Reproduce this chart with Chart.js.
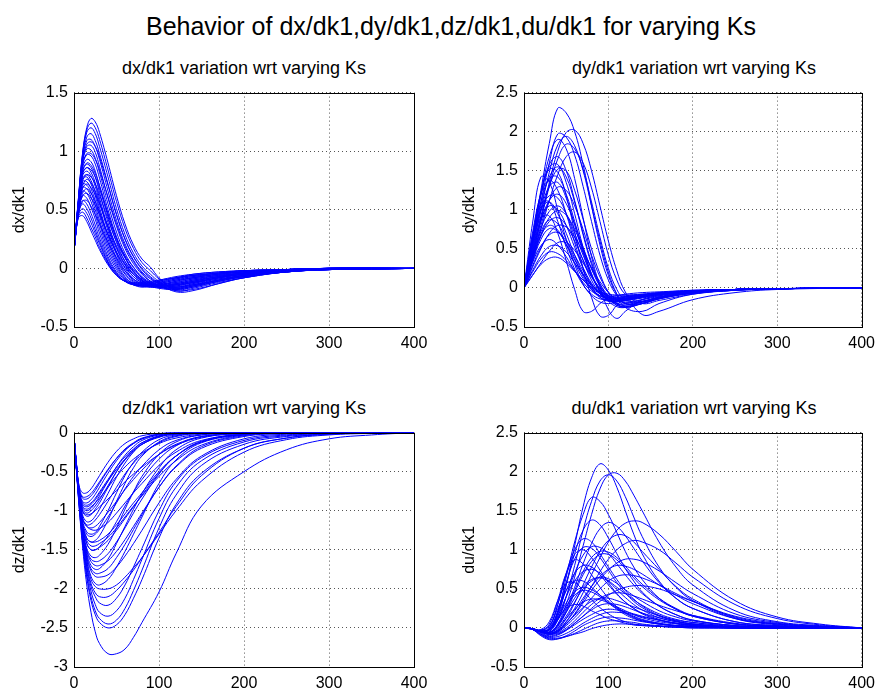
<!DOCTYPE html>
<html>
<head>
<meta charset="utf-8">
<script src="https://cdn.jsdelivr.net/npm/chart.js@4.4.1/dist/chart.umd.min.js"></script>
<style>
  body { margin: 0; background: #fff; }
  #fig { position: relative; width: 882px; height: 696px; overflow: hidden; font-family: "Liberation Sans", Arial, sans-serif; color: #000; }
  .box { position: absolute; }
  .ttl { position: absolute; text-align: center; white-space: nowrap; line-height: 1; }
</style>
</head>
<body>
<div id="fig">
  <div class="ttl" style="left:0;width:902px;top:14px;font-size:25px;">Behavior of dx/dk1,dy/dk1,dz/dk1,du/dk1 for varying Ks</div>
  <div class="ttl" style="left:74px;width:340px;top:59px;font-size:18px;">dx/dk1 variation wrt varying Ks</div>
  <div class="ttl" style="left:524px;width:340px;top:59px;font-size:18px;">dy/dk1 variation wrt varying Ks</div>
  <div class="ttl" style="left:74px;width:340px;top:399px;font-size:18px;">dz/dk1 variation wrt varying Ks</div>
  <div class="ttl" style="left:524px;width:340px;top:399px;font-size:18px;">du/dk1 variation wrt varying Ks</div>
  <div class="box" style="left:0;top:77px;"><canvas id="dxChart" width="440" height="283"></canvas></div>
  <div class="box" style="left:440px;top:77px;"><canvas id="dyChart" width="442" height="283"></canvas></div>
  <div class="box" style="left:0;top:417px;"><canvas id="dzChart" width="440" height="279"></canvas></div>
  <div class="box" style="left:440px;top:417px;"><canvas id="duChart" width="442" height="279"></canvas></div>
</div>
<script>
// sample times (x) per panel
const dxSteps = [0, 5, 10, 15, 20, 25, 30, 40, 50, 60, 70, 80, 90, 100, 120, 140, 170, 200, 250, 300, 400];
const dySteps = [0, 5, 10, 20, 30, 40, 50, 60, 70, 80, 90, 100, 110, 120, 140, 160, 200, 250, 300, 400];
const dzSteps = [0, 3, 6, 10, 15, 20, 25, 30, 40, 50, 60, 70, 80, 100, 120, 150, 200, 250, 300, 350, 400];
const duSteps = [0, 10, 20, 30, 40, 50, 60, 70, 80, 90, 100, 110, 120, 130, 140, 160, 180, 200, 250, 300, 350, 400];

// dx/dk1 curves, one row per Ks value
const dxSeries = [
  [0.15, 0.58, 0.98, 1.20, 1.28, 1.25, 1.16, 0.90, 0.62, 0.38, 0.20, 0.08, 0.01, -0.08, -0.19, -0.17, -0.12, -0.08, -0.03, -0.01, 0],
  [0.15, 0.58, 0.97, 1.18, 1.24, 1.20, 1.10, 0.84, 0.57, 0.34, 0.17, 0.05, -0.02, -0.09, -0.18, -0.16, -0.11, -0.07, -0.03, -0.01, 0],
  [0.15, 0.57, 0.96, 1.16, 1.20, 1.15, 1.04, 0.78, 0.51, 0.29, 0.13, 0.02, -0.05, -0.11, -0.17, -0.15, -0.10, -0.07, -0.03, -0.01, 0],
  [0.15, 0.56, 0.94, 1.12, 1.15, 1.09, 0.98, 0.72, 0.46, 0.25, 0.10, 0.00, -0.07, -0.12, -0.16, -0.14, -0.10, -0.06, -0.03, -0.01, 0],
  [0.15, 0.56, 0.93, 1.09, 1.10, 1.04, 0.93, 0.66, 0.41, 0.21, 0.07, -0.03, -0.09, -0.13, -0.16, -0.13, -0.09, -0.06, -0.02, -0.01, 0],
  [0.15, 0.55, 0.91, 1.04, 1.05, 0.99, 0.87, 0.60, 0.36, 0.17, 0.04, -0.05, -0.11, -0.14, -0.15, -0.12, -0.08, -0.05, -0.02, -0.01, 0],
  [0.15, 0.55, 0.90, 1.02, 1.01, 0.94, 0.82, 0.55, 0.31, 0.13, 0.01, -0.08, -0.13, -0.16, -0.17, -0.14, -0.09, -0.06, -0.02, -0.01, 0],
  [0.15, 0.54, 0.87, 0.97, 0.96, 0.89, 0.77, 0.50, 0.27, 0.10, -0.02, -0.10, -0.14, -0.16, -0.16, -0.13, -0.08, -0.05, -0.02, -0.01, 0],
  [0.15, 0.54, 0.85, 0.93, 0.91, 0.83, 0.70, 0.44, 0.22, 0.06, -0.05, -0.11, -0.14, -0.15, -0.14, -0.11, -0.07, -0.05, -0.02, 0, 0],
  [0.15, 0.53, 0.83, 0.89, 0.86, 0.78, 0.65, 0.39, 0.18, 0.03, -0.07, -0.12, -0.15, -0.16, -0.15, -0.12, -0.08, -0.05, -0.02, 0, 0],
  [0.15, 0.53, 0.81, 0.86, 0.82, 0.73, 0.60, 0.35, 0.14, 0.00, -0.09, -0.13, -0.15, -0.15, -0.13, -0.10, -0.07, -0.04, -0.02, 0, 0],
  [0.15, 0.52, 0.79, 0.83, 0.79, 0.70, 0.57, 0.32, 0.12, -0.02, -0.10, -0.14, -0.16, -0.16, -0.14, -0.11, -0.07, -0.04, -0.02, 0, 0],
  [0.15, 0.52, 0.77, 0.80, 0.75, 0.65, 0.52, 0.28, 0.09, -0.04, -0.11, -0.14, -0.15, -0.14, -0.12, -0.09, -0.06, -0.04, -0.01, 0, 0],
  [0.15, 0.51, 0.76, 0.78, 0.72, 0.62, 0.49, 0.25, 0.07, -0.05, -0.12, -0.15, -0.16, -0.15, -0.13, -0.10, -0.06, -0.04, -0.01, 0, 0],
  [0.15, 0.51, 0.74, 0.74, 0.68, 0.58, 0.45, 0.22, 0.05, -0.07, -0.13, -0.15, -0.15, -0.14, -0.11, -0.08, -0.05, -0.03, -0.01, 0, 0],
  [0.15, 0.50, 0.72, 0.71, 0.65, 0.54, 0.41, 0.19, 0.03, -0.08, -0.13, -0.15, -0.15, -0.13, -0.10, -0.08, -0.05, -0.03, -0.01, 0, 0],
  [0.15, 0.50, 0.69, 0.68, 0.61, 0.50, 0.38, 0.16, 0.01, -0.09, -0.14, -0.16, -0.15, -0.14, -0.11, -0.08, -0.05, -0.03, -0.01, 0, 0],
  [0.15, 0.49, 0.66, 0.64, 0.57, 0.46, 0.34, 0.13, -0.01, -0.10, -0.14, -0.15, -0.14, -0.13, -0.10, -0.07, -0.05, -0.03, -0.01, 0, 0],
  [0.15, 0.48, 0.62, 0.60, 0.52, 0.42, 0.30, 0.10, -0.03, -0.11, -0.14, -0.15, -0.14, -0.12, -0.09, -0.07, -0.04, -0.03, -0.01, 0, 0],
  [0.15, 0.47, 0.58, 0.55, 0.47, 0.37, 0.26, 0.08, -0.04, -0.11, -0.14, -0.14, -0.13, -0.12, -0.09, -0.06, -0.04, -0.02, -0.01, 0, 0],
  [0.15, 0.46, 0.55, 0.51, 0.43, 0.33, 0.23, 0.06, -0.05, -0.11, -0.13, -0.14, -0.13, -0.11, -0.08, -0.06, -0.04, -0.02, -0.01, 0, 0],
  [0.15, 0.45, 0.51, 0.47, 0.39, 0.30, 0.21, 0.05, -0.05, -0.11, -0.13, -0.13, -0.12, -0.11, -0.08, -0.06, -0.04, -0.02, -0.01, 0, 0],
  [0.15, 0.44, 0.48, 0.43, 0.35, 0.27, 0.18, 0.04, -0.06, -0.11, -0.13, -0.13, -0.12, -0.10, -0.08, -0.05, -0.03, -0.02, -0.01, 0, 0],
  [0.15, 0.43, 0.45, 0.40, 0.32, 0.24, 0.16, 0.03, -0.06, -0.11, -0.12, -0.12, -0.11, -0.10, -0.07, -0.05, -0.03, -0.02, -0.01, 0, 0],
  [0.15, 0.52, 0.80, 0.86, 0.84, 0.78, 0.68, 0.46, 0.26, 0.11, 0.01, -0.07, -0.12, -0.15, -0.17, -0.15, -0.11, -0.07, -0.03, -0.01, 0],
  [0.15, 0.50, 0.74, 0.80, 0.78, 0.72, 0.63, 0.42, 0.23, 0.09, -0.01, -0.08, -0.13, -0.16, -0.18, -0.16, -0.11, -0.07, -0.03, -0.01, 0],
  [0.15, 0.48, 0.68, 0.72, 0.69, 0.63, 0.55, 0.36, 0.19, 0.06, -0.03, -0.09, -0.13, -0.15, -0.16, -0.14, -0.10, -0.06, -0.02, -0.01, 0],
  [0.15, 0.46, 0.62, 0.64, 0.60, 0.54, 0.46, 0.29, 0.14, 0.03, -0.05, -0.10, -0.13, -0.14, -0.14, -0.12, -0.08, -0.05, -0.02, -0.01, 0],
  [0.15, 0.55, 0.88, 0.98, 0.98, 0.93, 0.84, 0.61, 0.38, 0.19, 0.06, -0.04, -0.11, -0.15, -0.19, -0.18, -0.13, -0.08, -0.03, -0.01, 0],
  [0.15, 0.56, 0.92, 1.06, 1.08, 1.04, 0.95, 0.71, 0.46, 0.25, 0.10, -0.01, -0.08, -0.13, -0.20, -0.19, -0.13, -0.08, -0.03, -0.01, 0],
  [0.15, 0.53, 0.82, 0.90, 0.88, 0.81, 0.71, 0.47, 0.25, 0.09, -0.03, -0.10, -0.15, -0.17, -0.18, -0.15, -0.10, -0.06, -0.02, -0.01, 0],
  [0.15, 0.49, 0.70, 0.76, 0.73, 0.66, 0.56, 0.35, 0.17, 0.04, -0.05, -0.11, -0.14, -0.15, -0.14, -0.12, -0.08, -0.05, -0.02, 0, 0],
  [0.15, 0.47, 0.64, 0.68, 0.64, 0.57, 0.48, 0.29, 0.13, 0.01, -0.07, -0.12, -0.14, -0.15, -0.13, -0.11, -0.07, -0.04, -0.02, 0, 0],
  [0.15, 0.45, 0.57, 0.58, 0.53, 0.46, 0.38, 0.22, 0.09, -0.02, -0.09, -0.13, -0.14, -0.14, -0.12, -0.09, -0.06, -0.04, -0.01, 0, 0]
];

// dy/dk1 curves
const dySeries = [
  [0, 0.30, 0.62, 1.25, 1.85, 2.30, 2.24, 2.00, 1.58, 1.05, 0.55, 0.16, -0.08, -0.20, -0.20, -0.14, -0.07, -0.03, -0.01, 0],
  [0, 0.20, 0.42, 0.88, 1.35, 1.75, 1.99, 2.02, 1.85, 1.50, 1.05, 0.60, 0.22, -0.05, -0.34, -0.30, -0.15, -0.06, -0.02, 0],
  [0, 0.28, 0.56, 1.10, 1.60, 1.97, 1.93, 1.70, 1.30, 0.85, 0.42, 0.10, -0.10, -0.20, -0.17, -0.12, -0.06, -0.03, -0.01, 0],
  [0, 0.25, 0.50, 1.00, 1.48, 1.83, 1.94, 1.82, 1.50, 1.05, 0.60, 0.20, -0.08, -0.25, -0.30, -0.20, -0.08, -0.03, -0.01, 0],
  [0, 0.30, 0.60, 1.20, 1.68, 1.90, 1.78, 1.40, 0.90, 0.40, 0.02, -0.28, -0.39, -0.30, -0.15, -0.10, -0.05, -0.02, -0.01, 0],
  [0, 0.20, 0.42, 0.86, 1.30, 1.65, 1.84, 1.78, 1.52, 1.10, 0.65, 0.25, -0.02, -0.15, -0.18, -0.13, -0.07, -0.03, -0.01, 0],
  [0, 0.18, 0.36, 0.75, 1.12, 1.45, 1.68, 1.74, 1.60, 1.28, 0.85, 0.42, 0.10, -0.08, -0.20, -0.16, -0.08, -0.03, -0.01, 0],
  [0, 0.30, 0.60, 1.18, 1.58, 1.68, 1.50, 1.12, 0.68, 0.30, 0.02, -0.12, -0.16, -0.15, -0.12, -0.09, -0.05, -0.02, -0.01, 0],
  [0, 0.32, 0.62, 1.20, 1.55, 1.58, 1.35, 0.95, 0.52, 0.18, -0.05, -0.15, -0.17, -0.15, -0.11, -0.08, -0.04, -0.02, -0.01, 0],
  [0, 0.33, 0.65, 1.22, 1.52, 1.48, 1.18, 0.72, 0.25, -0.12, -0.36, -0.35, -0.22, -0.14, -0.10, -0.07, -0.04, -0.02, -0.01, 0],
  [0, 0.30, 0.60, 1.10, 1.40, 1.42, 1.20, 0.85, 0.48, 0.18, -0.02, -0.12, -0.15, -0.14, -0.11, -0.08, -0.04, -0.02, -0.01, 0],
  [0, 0.36, 0.70, 1.20, 1.38, 1.25, 0.95, 0.58, 0.25, 0.02, -0.12, -0.17, -0.17, -0.15, -0.11, -0.08, -0.04, -0.02, -0.01, 0],
  [0, 0.20, 0.40, 0.80, 1.12, 1.29, 1.25, 1.05, 0.75, 0.42, 0.14, -0.05, -0.15, -0.18, -0.15, -0.11, -0.05, -0.02, -0.01, 0],
  [0, 0.28, 0.55, 1.00, 1.18, 1.15, 0.95, 0.65, 0.35, 0.10, -0.07, -0.16, -0.18, -0.16, -0.12, -0.08, -0.04, -0.02, -0.01, 0],
  [0, 0.32, 0.62, 1.00, 1.10, 0.95, 0.70, 0.42, 0.18, 0.00, -0.10, -0.14, -0.14, -0.13, -0.10, -0.07, -0.04, -0.02, -0.01, 0],
  [0, 0.18, 0.35, 0.68, 0.90, 0.99, 0.93, 0.75, 0.50, 0.25, 0.05, -0.10, -0.20, -0.22, -0.18, -0.13, -0.06, -0.02, -0.01, 0],
  [0, 0.30, 0.58, 0.90, 0.92, 0.70, 0.35, -0.02, -0.30, -0.30, -0.20, -0.13, -0.10, -0.08, -0.06, -0.05, -0.03, -0.02, -0.01, 0],
  [0, 0.20, 0.40, 0.72, 0.87, 0.82, 0.62, 0.38, 0.15, -0.02, -0.12, -0.16, -0.16, -0.14, -0.10, -0.07, -0.04, -0.02, -0.01, 0],
  [0, 0.20, 0.38, 0.68, 0.80, 0.74, 0.55, 0.32, 0.12, -0.02, -0.10, -0.13, -0.13, -0.12, -0.09, -0.07, -0.04, -0.02, -0.01, 0],
  [0, 0.14, 0.28, 0.52, 0.68, 0.71, 0.60, 0.42, 0.22, 0.05, -0.07, -0.13, -0.15, -0.14, -0.11, -0.08, -0.04, -0.02, -0.01, 0],
  [0, 0.16, 0.32, 0.54, 0.62, 0.55, 0.40, 0.22, 0.07, -0.04, -0.10, -0.12, -0.12, -0.11, -0.09, -0.07, -0.04, -0.02, -0.01, 0],
  [0, 0.11, 0.22, 0.41, 0.53, 0.54, 0.46, 0.32, 0.17, 0.04, -0.05, -0.10, -0.12, -0.11, -0.09, -0.07, -0.04, -0.02, -0.01, 0],
  [0, 0.10, 0.20, 0.37, 0.46, 0.44, 0.35, 0.22, 0.10, 0.00, -0.07, -0.10, -0.10, -0.10, -0.08, -0.06, -0.04, -0.02, -0.01, 0],
  [0, 0.08, 0.16, 0.30, 0.38, 0.39, 0.32, 0.21, 0.10, 0.01, -0.05, -0.08, -0.09, -0.09, -0.08, -0.06, -0.03, -0.02, -0.01, 0],
  [0, 0.42, 0.82, 1.42, 1.35, 1.00, 0.62, 0.30, 0.05, -0.10, -0.18, -0.20, -0.18, -0.15, -0.10, -0.07, -0.04, -0.02, -0.01, 0],
  [0, 0.08, 0.16, 0.32, 0.47, 0.58, 0.58, 0.48, 0.32, 0.14, -0.02, -0.14, -0.22, -0.24, -0.20, -0.14, -0.06, -0.02, -0.01, 0],
  [0, 0.26, 0.52, 0.98, 1.30, 1.35, 1.15, 0.80, 0.45, 0.16, -0.04, -0.15, -0.20, -0.20, -0.15, -0.10, -0.05, -0.02, -0.01, 0],
  [0, 0.22, 0.45, 0.85, 1.12, 1.20, 1.08, 0.82, 0.52, 0.24, 0.02, -0.12, -0.20, -0.22, -0.18, -0.12, -0.05, -0.02, -0.01, 0],
  [0, 0.24, 0.48, 0.88, 1.05, 1.00, 0.80, 0.52, 0.26, 0.06, -0.08, -0.15, -0.17, -0.16, -0.12, -0.08, -0.04, -0.02, -0.01, 0],
  [0, 0.18, 0.36, 0.66, 0.85, 0.90, 0.80, 0.60, 0.36, 0.15, 0.00, -0.10, -0.15, -0.16, -0.13, -0.09, -0.04, -0.02, -0.01, 0],
  [0, 0.16, 0.33, 0.62, 0.76, 0.72, 0.56, 0.36, 0.17, 0.03, -0.07, -0.12, -0.14, -0.13, -0.10, -0.07, -0.04, -0.02, -0.01, 0],
  [0, 0.27, 0.55, 1.05, 1.42, 1.55, 1.42, 1.10, 0.70, 0.33, 0.05, -0.12, -0.22, -0.24, -0.18, -0.12, -0.05, -0.02, -0.01, 0],
  [0, 0.23, 0.46, 0.92, 1.30, 1.52, 1.50, 1.25, 0.88, 0.50, 0.18, -0.06, -0.20, -0.25, -0.20, -0.13, -0.06, -0.02, -0.01, 0],
  [0, 0.13, 0.26, 0.50, 0.70, 0.80, 0.78, 0.65, 0.46, 0.26, 0.08, -0.06, -0.15, -0.19, -0.17, -0.12, -0.05, -0.02, -0.01, 0],
  [0, 0.34, 0.66, 1.08, 1.10, 0.85, 0.52, 0.24, 0.04, -0.08, -0.14, -0.15, -0.14, -0.12, -0.09, -0.07, -0.04, -0.02, -0.01, 0],
  [0, 0.20, 0.40, 0.76, 0.98, 1.05, 0.95, 0.70, 0.42, 0.16, -0.04, -0.17, -0.24, -0.25, -0.20, -0.14, -0.06, -0.02, -0.01, 0]
];

// dz/dk1 curves
const dzSeries = [
  [-0.05, -0.50, -0.95, -1.45, -1.95, -2.30, -2.55, -2.70, -2.83, -2.83, -2.77, -2.62, -2.43, -2.04, -1.55, -0.94, -0.50, -0.22, -0.08, -0.03, 0],
  [-0.05, -0.50, -0.93, -1.40, -1.85, -2.15, -2.33, -2.43, -2.50, -2.46, -2.33, -2.12, -1.88, -1.35, -0.92, -0.52, -0.20, -0.07, -0.02, -0.01, 0],
  [-0.05, -0.50, -0.92, -1.38, -1.82, -2.10, -2.28, -2.38, -2.45, -2.40, -2.25, -2.02, -1.76, -1.22, -0.80, -0.42, -0.15, -0.05, -0.02, 0, 0],
  [-0.05, -0.49, -0.90, -1.35, -1.77, -2.03, -2.20, -2.30, -2.35, -2.28, -2.12, -1.88, -1.62, -1.10, -0.70, -0.36, -0.12, -0.04, -0.01, 0, 0],
  [-0.05, -0.48, -0.88, -1.32, -1.72, -1.97, -2.10, -2.18, -2.21, -2.12, -1.95, -1.72, -1.48, -1.00, -0.63, -0.32, -0.10, -0.03, -0.01, 0, 0],
  [-0.05, -0.48, -0.87, -1.28, -1.63, -1.84, -1.93, -1.95, -1.88, -1.72, -1.52, -1.30, -1.08, -0.65, -0.35, -0.13, -0.03, -0.01, 0, 0, 0],
  [-0.05, -0.48, -0.88, -1.30, -1.70, -1.93, -2.05, -2.10, -2.10, -2.02, -1.90, -1.76, -1.60, -1.28, -0.95, -0.55, -0.20, -0.07, -0.02, -0.01, 0],
  [-0.05, -0.47, -0.85, -1.25, -1.55, -1.70, -1.75, -1.74, -1.62, -1.42, -1.20, -0.98, -0.78, -0.45, -0.22, -0.07, -0.01, 0, 0, 0, 0],
  [-0.05, -0.47, -0.84, -1.22, -1.48, -1.58, -1.60, -1.57, -1.43, -1.22, -0.98, -0.76, -0.56, -0.28, -0.12, -0.03, 0, 0, 0, 0, 0],
  [-0.05, -0.46, -0.83, -1.20, -1.42, -1.50, -1.50, -1.47, -1.38, -1.25, -1.10, -0.95, -0.80, -0.52, -0.30, -0.12, -0.02, -0.01, 0, 0, 0],
  [-0.05, -0.46, -0.82, -1.17, -1.35, -1.40, -1.38, -1.32, -1.12, -0.88, -0.65, -0.45, -0.30, -0.12, -0.04, -0.01, 0, 0, 0, 0, 0],
  [-0.05, -0.45, -0.80, -1.12, -1.27, -1.30, -1.28, -1.20, -1.00, -0.77, -0.55, -0.38, -0.25, -0.09, -0.03, -0.01, 0, 0, 0, 0, 0],
  [-0.05, -0.45, -0.80, -1.10, -1.20, -1.22, -1.20, -1.15, -1.02, -0.88, -0.73, -0.60, -0.48, -0.28, -0.15, -0.05, -0.01, 0, 0, 0, 0],
  [-0.05, -0.44, -0.78, -1.05, -1.14, -1.13, -1.07, -0.98, -0.78, -0.57, -0.39, -0.25, -0.15, -0.05, -0.01, 0, 0, 0, 0, 0, 0],
  [-0.05, -0.44, -0.77, -1.01, -1.07, -1.05, -0.98, -0.90, -0.70, -0.50, -0.34, -0.22, -0.13, -0.04, -0.01, 0, 0, 0, 0, 0, 0],
  [-0.05, -0.43, -0.75, -0.96, -1.00, -0.97, -0.90, -0.81, -0.62, -0.44, -0.29, -0.18, -0.10, -0.03, -0.01, 0, 0, 0, 0, 0, 0],
  [-0.05, -0.43, -0.74, -0.92, -0.95, -0.92, -0.86, -0.78, -0.62, -0.47, -0.34, -0.23, -0.15, -0.05, -0.02, 0, 0, 0, 0, 0, 0],
  [-0.05, -0.42, -0.72, -0.88, -0.90, -0.86, -0.79, -0.70, -0.52, -0.36, -0.23, -0.14, -0.08, -0.02, 0, 0, 0, 0, 0, 0, 0],
  [-0.05, -0.42, -0.71, -0.84, -0.85, -0.81, -0.74, -0.65, -0.48, -0.33, -0.21, -0.13, -0.07, -0.02, 0, 0, 0, 0, 0, 0, 0],
  [-0.05, -0.41, -0.68, -0.77, -0.77, -0.72, -0.64, -0.55, -0.38, -0.24, -0.14, -0.08, -0.04, -0.01, 0, 0, 0, 0, 0, 0, 0],
  [-0.05, -0.45, -0.80, -1.10, -1.20, -1.24, -1.25, -1.23, -1.15, -1.03, -0.90, -0.77, -0.65, -0.42, -0.25, -0.10, -0.02, -0.01, 0, 0, 0],
  [-0.05, -0.47, -0.85, -1.25, -1.52, -1.65, -1.70, -1.70, -1.64, -1.52, -1.37, -1.20, -1.03, -0.70, -0.44, -0.20, -0.05, -0.01, 0, 0, 0],
  [-0.05, -0.48, -0.86, -1.27, -1.60, -1.77, -1.84, -1.85, -1.82, -1.72, -1.58, -1.42, -1.25, -0.90, -0.60, -0.30, -0.08, -0.02, -0.01, 0, 0],
  [-0.05, -0.44, -0.77, -1.00, -1.05, -1.04, -1.00, -0.95, -0.85, -0.74, -0.63, -0.53, -0.44, -0.28, -0.16, -0.06, -0.01, 0, 0, 0, 0],
  [-0.05, -0.48, -0.87, -1.28, -1.65, -1.88, -1.97, -2.00, -2.00, -1.95, -1.85, -1.73, -1.60, -1.30, -1.00, -0.62, -0.25, -0.09, -0.03, -0.01, 0],
  [-0.05, -0.46, -0.82, -1.17, -1.35, -1.40, -1.40, -1.38, -1.30, -1.18, -1.04, -0.90, -0.77, -0.50, -0.30, -0.12, -0.02, 0, 0, 0, 0],
  [-0.05, -0.45, -0.79, -1.08, -1.18, -1.17, -1.12, -1.05, -0.88, -0.70, -0.53, -0.39, -0.28, -0.13, -0.05, -0.01, 0, 0, 0, 0, 0],
  [-0.05, -0.44, -0.76, -0.98, -1.03, -1.00, -0.94, -0.86, -0.68, -0.50, -0.35, -0.24, -0.15, -0.06, -0.02, 0, 0, 0, 0, 0, 0],
  [-0.05, -0.42, -0.73, -0.90, -0.93, -0.90, -0.84, -0.76, -0.60, -0.44, -0.31, -0.21, -0.13, -0.05, -0.01, 0, 0, 0, 0, 0, 0],
  [-0.05, -0.46, -0.82, -1.15, -1.30, -1.33, -1.30, -1.24, -1.08, -0.90, -0.72, -0.56, -0.43, -0.22, -0.10, -0.03, 0, 0, 0, 0, 0],
  [-0.05, -0.47, -0.84, -1.20, -1.42, -1.50, -1.50, -1.46, -1.32, -1.14, -0.94, -0.76, -0.60, -0.34, -0.17, -0.05, -0.01, 0, 0, 0, 0],
  [-0.05, -0.47, -0.85, -1.24, -1.50, -1.62, -1.65, -1.64, -1.55, -1.40, -1.22, -1.03, -0.85, -0.53, -0.30, -0.11, -0.02, 0, 0, 0, 0],
  [-0.05, -0.48, -0.86, -1.26, -1.58, -1.74, -1.80, -1.80, -1.74, -1.60, -1.43, -1.24, -1.05, -0.70, -0.43, -0.18, -0.04, -0.01, 0, 0, 0],
  [-0.05, -0.43, -0.74, -0.94, -0.98, -0.95, -0.90, -0.84, -0.70, -0.56, -0.44, -0.34, -0.26, -0.14, -0.07, -0.02, 0, 0, 0, 0, 0],
  [-0.05, -0.41, -0.70, -0.82, -0.82, -0.78, -0.71, -0.63, -0.47, -0.33, -0.22, -0.14, -0.08, -0.02, 0, 0, 0, 0, 0, 0, 0],
  [-0.05, -0.46, -0.83, -1.18, -1.38, -1.45, -1.45, -1.42, -1.34, -1.22, -1.08, -0.94, -0.81, -0.56, -0.36, -0.16, -0.03, -0.01, 0, 0, 0]
];

// du/dk1 curves
const duSeries = [
  [0, -0.01, -0.05, -0.05, 0.15, 0.55, 1.05, 1.55, 1.92, 2.10, 2.02, 1.80, 1.50, 1.20, 0.95, 0.60, 0.38, 0.25, 0.08, 0.03, 0.01, 0],
  [0, -0.01, -0.05, -0.06, 0.05, 0.30, 0.65, 1.05, 1.45, 1.78, 1.96, 1.98, 1.88, 1.70, 1.50, 1.10, 0.78, 0.55, 0.22, 0.08, 0.03, 0],
  [0, -0.01, -0.05, -0.05, 0.10, 0.40, 0.80, 1.25, 1.62, 1.88, 1.96, 1.88, 1.68, 1.42, 1.17, 0.78, 0.52, 0.35, 0.12, 0.04, 0.01, 0],
  [0, -0.01, -0.04, -0.03, 0.20, 0.65, 1.10, 1.45, 1.67, 1.62, 1.45, 1.22, 0.98, 0.78, 0.62, 0.38, 0.24, 0.15, 0.05, 0.02, 0, 0],
  [0, -0.01, -0.05, -0.08, -0.04, 0.08, 0.25, 0.45, 0.68, 0.90, 1.10, 1.25, 1.34, 1.37, 1.35, 1.20, 0.98, 0.75, 0.35, 0.14, 0.05, 0],
  [0, -0.01, -0.05, -0.06, 0.04, 0.25, 0.52, 0.82, 1.08, 1.27, 1.35, 1.30, 1.18, 1.02, 0.86, 0.58, 0.38, 0.25, 0.08, 0.03, 0.01, 0],
  [0, -0.01, -0.04, -0.03, 0.18, 0.55, 0.95, 1.25, 1.38, 1.32, 1.15, 0.95, 0.76, 0.60, 0.46, 0.28, 0.17, 0.10, 0.03, 0.01, 0, 0],
  [0, -0.01, -0.05, -0.07, -0.02, 0.12, 0.32, 0.55, 0.78, 0.98, 1.12, 1.19, 1.18, 1.10, 0.98, 0.75, 0.53, 0.37, 0.13, 0.05, 0.02, 0],
  [0, -0.01, -0.05, -0.08, -0.05, 0.05, 0.18, 0.35, 0.53, 0.72, 0.88, 1.00, 1.08, 1.12, 1.10, 1.00, 0.83, 0.65, 0.30, 0.12, 0.04, 0],
  [0, -0.01, -0.04, 0.00, 0.30, 0.70, 1.00, 1.14, 1.10, 0.95, 0.78, 0.62, 0.48, 0.37, 0.28, 0.16, 0.09, 0.05, 0.01, 0, 0, 0],
  [0, -0.01, -0.04, -0.03, 0.12, 0.40, 0.70, 0.93, 1.04, 1.03, 0.95, 0.82, 0.68, 0.55, 0.44, 0.28, 0.17, 0.10, 0.03, 0.01, 0, 0],
  [0, -0.01, -0.03, 0.02, 0.30, 0.68, 0.94, 1.00, 0.90, 0.74, 0.58, 0.44, 0.33, 0.25, 0.18, 0.10, 0.06, 0.03, 0.01, 0, 0, 0],
  [0, -0.01, -0.05, -0.06, 0.02, 0.20, 0.45, 0.68, 0.85, 0.94, 0.94, 0.87, 0.76, 0.64, 0.53, 0.36, 0.24, 0.15, 0.05, 0.02, 0, 0],
  [0, -0.01, -0.03, 0.05, 0.35, 0.70, 0.87, 0.82, 0.68, 0.52, 0.38, 0.27, 0.19, 0.13, 0.09, 0.05, 0.03, 0.02, 0, 0, 0, 0],
  [0, -0.01, -0.05, -0.07, -0.03, 0.08, 0.22, 0.38, 0.53, 0.66, 0.75, 0.80, 0.79, 0.75, 0.69, 0.55, 0.42, 0.31, 0.12, 0.05, 0.02, 0],
  [0, -0.01, -0.04, -0.02, 0.15, 0.40, 0.60, 0.72, 0.75, 0.70, 0.60, 0.49, 0.39, 0.30, 0.23, 0.13, 0.08, 0.05, 0.01, 0, 0, 0],
  [0, -0.01, -0.05, -0.06, 0.00, 0.15, 0.33, 0.50, 0.60, 0.65, 0.63, 0.57, 0.49, 0.41, 0.34, 0.22, 0.14, 0.09, 0.03, 0.01, 0, 0],
  [0, -0.01, -0.02, 0.08, 0.35, 0.57, 0.58, 0.48, 0.36, 0.26, 0.18, 0.12, 0.08, 0.05, 0.04, 0.02, 0.01, 0, 0, 0, 0, 0],
  [0, -0.01, -0.04, -0.02, 0.12, 0.32, 0.46, 0.52, 0.49, 0.42, 0.34, 0.26, 0.20, 0.15, 0.11, 0.06, 0.03, 0.02, 0, 0, 0, 0],
  [0, -0.01, -0.05, -0.08, -0.06, 0.00, 0.09, 0.20, 0.30, 0.38, 0.43, 0.45, 0.44, 0.41, 0.37, 0.29, 0.22, 0.16, 0.06, 0.02, 0.01, 0],
  [0, -0.01, -0.05, -0.06, 0.00, 0.12, 0.24, 0.33, 0.37, 0.36, 0.32, 0.27, 0.22, 0.17, 0.13, 0.08, 0.05, 0.03, 0.01, 0, 0, 0],
  [0, -0.01, -0.04, -0.02, 0.12, 0.25, 0.30, 0.28, 0.22, 0.17, 0.12, 0.09, 0.06, 0.04, 0.03, 0.02, 0.01, 0, 0, 0, 0, 0],
  [0, -0.01, -0.06, -0.10, -0.08, -0.03, 0.04, 0.11, 0.17, 0.22, 0.24, 0.23, 0.21, 0.18, 0.15, 0.10, 0.06, 0.04, 0.01, 0, 0, 0],
  [0, -0.02, -0.10, -0.15, -0.14, -0.10, -0.04, 0.03, 0.08, 0.12, 0.14, 0.13, 0.12, 0.10, 0.08, 0.05, 0.03, 0.02, 0.01, 0, 0, 0],
  [0, -0.02, -0.09, -0.14, -0.14, -0.11, -0.07, -0.02, 0.03, 0.07, 0.09, 0.09, 0.08, 0.07, 0.05, 0.03, 0.02, 0.01, 0, 0, 0, 0],
  [0, -0.02, -0.08, -0.13, -0.13, -0.11, -0.08, -0.05, -0.01, 0.02, 0.04, 0.05, 0.05, 0.04, 0.03, 0.02, 0.01, 0.01, 0, 0, 0, 0],
  [0, -0.01, -0.05, -0.07, -0.04, 0.05, 0.17, 0.32, 0.48, 0.62, 0.74, 0.83, 0.88, 0.88, 0.85, 0.73, 0.58, 0.44, 0.18, 0.07, 0.02, 0],
  [0, -0.01, -0.05, -0.08, -0.07, -0.02, 0.06, 0.15, 0.25, 0.34, 0.42, 0.48, 0.52, 0.54, 0.54, 0.50, 0.42, 0.34, 0.15, 0.06, 0.02, 0],
  [0, -0.01, -0.04, -0.01, 0.20, 0.48, 0.70, 0.80, 0.78, 0.68, 0.55, 0.43, 0.33, 0.25, 0.19, 0.11, 0.06, 0.04, 0.01, 0, 0, 0],
  [0, -0.01, -0.05, -0.06, 0.04, 0.20, 0.38, 0.53, 0.62, 0.64, 0.60, 0.52, 0.44, 0.36, 0.29, 0.18, 0.11, 0.07, 0.02, 0.01, 0, 0],
  [0, -0.01, -0.04, -0.02, 0.10, 0.28, 0.42, 0.48, 0.46, 0.40, 0.32, 0.25, 0.19, 0.14, 0.10, 0.06, 0.03, 0.02, 0, 0, 0, 0],
  [0, -0.01, -0.05, -0.07, -0.03, 0.06, 0.16, 0.26, 0.34, 0.38, 0.38, 0.35, 0.31, 0.27, 0.23, 0.16, 0.10, 0.07, 0.02, 0.01, 0, 0],
  [0, -0.02, -0.07, -0.11, -0.09, -0.03, 0.06, 0.15, 0.23, 0.29, 0.31, 0.30, 0.27, 0.23, 0.19, 0.13, 0.08, 0.05, 0.01, 0, 0, 0],
  [0, -0.01, -0.03, 0.03, 0.25, 0.48, 0.60, 0.60, 0.52, 0.42, 0.32, 0.24, 0.17, 0.12, 0.09, 0.05, 0.03, 0.02, 0, 0, 0, 0],
  [0, -0.01, -0.05, -0.06, 0.03, 0.22, 0.48, 0.72, 0.90, 0.98, 0.97, 0.90, 0.79, 0.67, 0.56, 0.38, 0.25, 0.16, 0.05, 0.02, 0, 0],
  [0, -0.01, -0.05, -0.08, -0.05, 0.03, 0.13, 0.25, 0.38, 0.50, 0.60, 0.66, 0.68, 0.67, 0.64, 0.55, 0.44, 0.34, 0.14, 0.05, 0.02, 0],
  [0, -0.02, -0.08, -0.12, -0.11, -0.07, -0.01, 0.06, 0.12, 0.17, 0.20, 0.20, 0.19, 0.17, 0.14, 0.10, 0.06, 0.04, 0.01, 0, 0, 0],
  [0, -0.01, -0.04, -0.01, 0.22, 0.58, 0.88, 1.03, 1.02, 0.90, 0.74, 0.58, 0.45, 0.34, 0.26, 0.15, 0.09, 0.05, 0.01, 0, 0, 0]
];

Chart.defaults.font.family = '"Liberation Sans", Arial, sans-serif';
Chart.defaults.color = '#000';

function lines(steps, series) {
  return series.map(ys => ({
    data: ys.map((y, i) => ({ x: steps[i], y: y })),
    borderColor: '#0000ff',
    borderWidth: 1,
    pointRadius: 0,
    fill: false,
    tension: 0.4
  }));
}

// solid axes box round the plot area, drawn over the curves like matlab does
const frame = {
  id: 'frame',
  afterDatasetsDraw(chart) {
    const { ctx, chartArea: a } = chart;
    ctx.save();
    ctx.strokeStyle = '#000';
    ctx.lineWidth = 1;
    ctx.strokeRect(Math.round(a.left) + 0.5, Math.round(a.top) + 0.5,
      Math.round(a.right - a.left), Math.round(a.bottom - a.top));
    ctx.restore();
  }
};

const tickText = v => String(Math.round(v * 10) / 10);

function panel(id, steps, series, yMin, yMax, yLabel, axisW, axisH, padRight, labelPad) {
  new Chart(document.getElementById(id), {
    type: 'line',
    data: { datasets: lines(steps, series) },
    options: {
      responsive: false,
      animation: false,
      events: [],
      layout: { padding: { top: 10, right: padRight, bottom: 0, left: 0 } },
      plugins: { legend: { display: false }, tooltip: { enabled: false } },
      scales: {
        x: {
          type: 'linear', min: 0, max: 400,
          ticks: { stepSize: 100, padding: 7, maxRotation: 0, font: { size: 16 }, callback: tickText },
          grid: { color: '#555', drawTicks: false },
          border: { display: false, dash: [1, 3] },
          afterFit: s => { s.height = axisH; }
        },
        y: {
          min: yMin, max: yMax,
          ticks: { stepSize: 0.5, padding: 6, font: { size: 16 }, callback: tickText },
          grid: { color: '#555', drawTicks: false },
          border: { display: false, dash: [1, 3] },
          title: { display: true, text: yLabel, font: { size: 16 }, padding: { top: labelPad, bottom: 0 } },
          afterFit: s => { s.width = axisW; }
        }
      }
    },
    plugins: [frame]
  });
}

panel('dxChart', dxSteps, dxSeries, -0.5, 1.5, 'dx/dk1', 74, 33, 26, 10);
panel('dyChart', dySteps, dySeries, -0.5, 2.5, 'dy/dk1', 84, 33, 18, 20);
panel('dzChart', dzSteps, dzSeries, -3, 0, 'dz/dk1', 74, 29, 26, 10);
panel('duChart', duSteps, duSeries, -0.5, 2.5, 'du/dk1', 84, 29, 18, 20);
</script>
</body>
</html>
